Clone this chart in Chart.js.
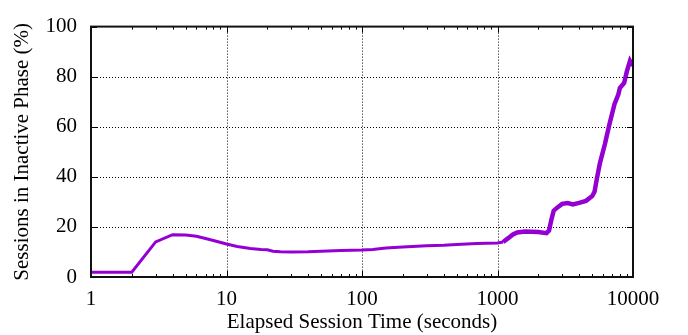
<!DOCTYPE html>
<html><head><meta charset="utf-8">
<script src="https://cdn.jsdelivr.net/npm/chart.js@4"></script>
<style>html,body{margin:0;padding:0;background:#fff;}</style>
</head><body>
<canvas id="c" width="688" height="335"></canvas>
<script>
const elapsedSeconds = [1, 2, 3, 4, 5, 6, 7, 8, 10, 12, 15, 18, 20, 22, 25, 30, 40, 50, 70, 100, 120, 150, 200, 300, 400, 500, 700, 1000, 1100, 1200, 1300, 1400, 1600, 2000, 2300, 2400, 2500, 2600, 2800, 3000, 3300, 3600, 4000, 4500, 5000, 5200, 5400, 5700, 6200, 6700, 7300, 7800, 8000, 8600, 9000, 9500, 9800, 10000];
const inactivePct = [1.9, 1.9, 14.0, 16.9, 16.8, 16.3, 15.4, 14.6, 13.2, 12.2, 11.4, 11.0, 10.9, 10.3, 10.1, 10.0, 10.1, 10.3, 10.6, 10.8, 11.0, 11.6, 12.0, 12.5, 12.7, 13.0, 13.4, 13.6, 14.0, 15.5, 17.0, 17.8, 18.2, 18.0, 17.5, 18.5, 23.0, 26.5, 28.0, 29.2, 29.5, 29.0, 29.6, 30.4, 32.3, 34.0, 39.0, 45.5, 53.0, 61.0, 69.0, 73.0, 75.5, 77.5, 82.0, 86.3, 85.0, 84.7];
const xTickValues = [1, 10, 100, 1000, 10000];
const yTickValues = [0, 20, 40, 60, 80, 100];
const xTitle = 'Elapsed Session Time (seconds)';
const yTitle = 'Sessions in Inactive Phase (%)';

const FONT = 'Liberation Serif';
const isMajor = v => xTickValues.some(t => Math.abs(t - v) < 1e-9);

const framePlugin = {
  id: 'frame',
  beforeDatasetsDraw(chart) {
    const {ctx, chartArea: a, scales: {x, y}} = chart;
    ctx.save();
    ctx.strokeStyle = '#000';
    ctx.lineWidth = 1;
    ctx.setLineDash([1, 2]);
    xTickValues.slice(1, -1).forEach(v => {
      const p = Math.round(x.getPixelForValue(v)) + 0.5;
      ctx.beginPath(); ctx.moveTo(p, a.top); ctx.lineTo(p, a.bottom); ctx.stroke();
    });
    yTickValues.slice(1, -1).forEach(v => {
      const p = Math.round(y.getPixelForValue(v)) + 0.5;
      ctx.beginPath(); ctx.moveTo(a.left, p); ctx.lineTo(a.right, p); ctx.stroke();
    });
    ctx.restore();
  },
  afterDraw(chart) {
    const {ctx, chartArea: a, scales: {x, y}} = chart;
    ctx.save();
    ctx.strokeStyle = '#000';
    ctx.lineWidth = 1;
    // x ticks (major and minor), mirrored on top
    for (let i = 0; i < xTickValues.length; i++) {
      const d = xTickValues[i];
      const vals = [d];
      if (i < xTickValues.length - 1) for (let k = 2; k <= 9; k++) vals.push(d * k);
      vals.forEach(v => {
        const p = Math.round(x.getPixelForValue(v)) + 0.5;
        const len = isMajor(v) ? 6 : 3;
        ctx.beginPath();
        ctx.moveTo(p, a.bottom); ctx.lineTo(p, a.bottom - len);
        ctx.moveTo(p, a.top); ctx.lineTo(p, a.top + len);
        ctx.stroke();
      });
    }
    yTickValues.forEach(v => {
      const p = Math.round(y.getPixelForValue(v)) + 0.5;
      ctx.beginPath();
      ctx.moveTo(a.left, p); ctx.lineTo(a.left + 6, p);
      ctx.moveTo(a.right, p); ctx.lineTo(a.right - 6, p);
      ctx.stroke();
    });
    ctx.lineWidth = 2;
    ctx.strokeStyle = '#111';
    ctx.strokeRect(a.left, a.top, a.right - a.left, a.bottom - a.top);
    ctx.restore();
  }
};

new Chart(document.getElementById('c'), {
  type: 'line',
  data: {
    datasets: [{
      data: elapsedSeconds.map((s, i) => ({x: s, y: inactivePct[i]})),
      borderColor: '#9400D3',
      borderWidth: 3,
      pointRadius: 0,
      tension: 0,
      fill: false,
      segment: {
        borderWidth: c => c.p0.parsed.x >= 1100 ? 4.5 : 3
      }
    }]
  },
  options: {
    responsive: false,
    devicePixelRatio: 1,
    animation: false,
    layout: {padding: {top: 13, right: 55, bottom: 0, left: 0}},
    plugins: {legend: {display: false}, tooltip: {enabled: false}},
    scales: {
      x: {
        type: 'logarithmic', min: 1, max: 10000,
        afterFit: s => { s.height = 58; },
        afterBuildTicks: s => { s.ticks = xTickValues.map(v => ({value: v})); },
        grid: {display: false, drawTicks: false},
        border: {display: false},
        ticks: {
          autoSkip: false, maxRotation: 0, padding: 10, color: '#000',
          font: {family: FONT, size: 21},
          callback: v => isMajor(v) ? String(v) : ''
        },
        title: {display: true, text: xTitle, color: '#000', font: {family: FONT, size: 21}, padding: {top: 0, bottom: 0}}
      },
      y: {
        min: 0, max: 100,
        afterFit: s => { s.width = 91; },
        afterBuildTicks: s => { s.ticks = yTickValues.map(v => ({value: v})); },
        grid: {display: false, drawTicks: false},
        border: {display: false},
        ticks: {padding: 14, color: '#000', font: {family: FONT, size: 21}},
        title: {display: true, text: yTitle, color: '#000', font: {family: FONT, size: 21}, padding: {top: 10, bottom: 0}}
      }
    }
  },
  plugins: [framePlugin]
});
</script>
</body></html>
